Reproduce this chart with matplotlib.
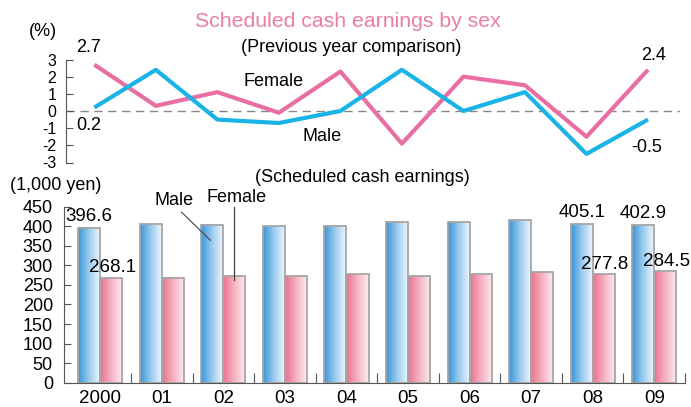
import numpy as np
import matplotlib
matplotlib.use("Agg")
import matplotlib.pyplot as plt
from matplotlib.colors import LinearSegmentedColormap

plt.rcParams["font.family"] = ["Liberation Sans", "DejaVu Sans"]
plt.rcParams["axes.unicode_minus"] = False

anos = ["2000", "01", "02", "03", "04", "05", "06", "07", "08", "09"]
homem_pct = [0.2, 2.4, -0.5, -0.7, 0.0, 2.4, 0.0, 1.1, -2.5, -0.5]
mulher_pct = [2.7, 0.3, 1.1, -0.1, 2.3, -1.9, 2.0, 1.5, -1.5, 2.4]
homem_val = [396.6, 406.1, 404.2, 401.4, 401.4, 411.0, 411.0, 415.5, 405.1, 402.9]
mulher_val = [268.1, 268.9, 271.9, 271.6, 277.8, 272.5, 278.0, 282.2, 277.8, 284.5]

W, H = 691, 407
AZUL_LINHA = "#1ab3e8"
ROSA_LINHA = "#e96fa3"
ROSA_TITULO = "#ea7fa0"
CINZA = "#555555"


def px(x, y):
    return x / W, 1 - y / H


def pintarGradiente(ax, barras, cmap):
    grad = np.linspace(0, 1, 256).reshape(1, -1)
    for b in barras:
        x0, y0 = b.get_x(), b.get_y()
        ax.imshow(grad, cmap=cmap, aspect="auto", zorder=1,
                  extent=[x0, x0 + b.get_width(), y0, y0 + b.get_height()])


fig = plt.figure(figsize=(W / 100, H / 100), dpi=100)

# ---- grafico de cima (variacao anual)
l, t = px(66, 59.5)
r, b = px(680, 162.5)
ax1 = fig.add_axes([l, b, r - l, t - b])
x = np.arange(len(anos))
ax1.axhline(0, color="#888888", lw=1, ls=(0, (6, 4)), zorder=1)
ax1.plot(x, mulher_pct, color=ROSA_LINHA, lw=3, zorder=3, solid_capstyle="butt")
ax1.plot(x, homem_pct, color=AZUL_LINHA, lw=3, zorder=3, solid_capstyle="butt")
ax1.set_xlim(-0.46, 9.52)
ax1.set_ylim(-3, 3)
for s in ["top", "right", "bottom"]:
    ax1.spines[s].set_visible(False)
ax1.spines["left"].set_color(CINZA)
ax1.set_xticks([])
ticks = list(range(-3, 4))
ax1.set_yticks(ticks, labels=[str(v) for v in ticks])
ax1.tick_params(axis="y", direction="in", length=5, color=CINZA, labelsize=11.5, pad=7)

ax1.annotate(f"{mulher_pct[0]}", (0, mulher_pct[0]), xytext=(-4, 6), textcoords="offset points",
             ha="center", va="bottom", fontsize=13)
ax1.annotate(f"{homem_pct[0]}", (0, homem_pct[0]), xytext=(-4, -7), textcoords="offset points",
             ha="center", va="top", fontsize=13)
ax1.annotate(f"{mulher_pct[9]}", (9, mulher_pct[9]), xytext=(4, 4), textcoords="offset points",
             ha="center", va="bottom", fontsize=13)
ax1.annotate(f"{homem_pct[9]}", (9, homem_pct[9]), xytext=(-1, -14), textcoords="offset points",
             ha="center", va="top", fontsize=13)
ax1.text(2.91, 1.73, "Female", ha="center", va="center", fontsize=13)
ax1.text(3.70, -1.5, "Male", ha="center", va="center", fontsize=13)

# ---- grafico de baixo (valores)
l, t = px(64, 206.7)
r, b = px(685, 382.7)
ax2 = fig.add_axes([l, b, r - l, t - b])
w = 0.358
cm_azul = LinearSegmentedColormap.from_list("azul", ["#3796d8", "#9fcdef", "#f4f9fe"])
cm_rosa = LinearSegmentedColormap.from_list("rosa", ["#e9718f", "#f6b3c3", "#fdf0f3"])
bh = ax2.bar(x - w / 2, homem_val, w, facecolor="none", edgecolor="#a6a6a6", lw=1.3, zorder=2)
bm = ax2.bar(x + w / 2, mulher_val, w, facecolor="none", edgecolor="#a6a6a6", lw=1.3, zorder=2)
pintarGradiente(ax2, bh, cm_azul)
pintarGradiente(ax2, bm, cm_rosa)
ax2.set_xlim(-0.59, 9.5)
ax2.set_ylim(0, 450)
for s in ["top", "right"]:
    ax2.spines[s].set_visible(False)
for s in ["left", "bottom"]:
    ax2.spines[s].set_color(CINZA)
ax2.set_yticks(range(0, 451, 50))
ax2.tick_params(axis="y", direction="in", length=5, color=CINZA, labelsize=13, pad=8)
ax2.set_xticks(np.arange(0.5, 10, 1), labels=[""] * 10)
ax2.set_xticks(x, labels=anos, minor=True)
ax2.tick_params(axis="x", which="major", direction="in", length=7, color=CINZA)
ax2.tick_params(axis="x", which="minor", length=0, labelsize=13.5, pad=5)

for i in [0, 8, 9]:
    ax2.annotate(f"{homem_val[i]}", (i - w / 2, homem_val[i]), xytext=(0, 2), textcoords="offset points",
                 ha="center", va="bottom", fontsize=13.5)
    ax2.annotate(f"{mulher_val[i]}", (i + w / 2, mulher_val[i]), xytext=(1, 1), textcoords="offset points",
                 ha="center", va="bottom", fontsize=13.5)

# linhas de legenda
ax2.plot([1.32, 1.79], [436, 364], color="#444444", lw=0.8, clip_on=False, zorder=4)
ax2.plot([2.17, 2.17], [448, 262], color="#444444", lw=0.9, clip_on=False, zorder=4)
fig.text(*px(173.7, 201), "Male", ha="center", va="center", fontsize=13)
fig.text(*px(236.2, 197.5), "Female", ha="center", va="center", fontsize=13)

# ---- textos
fig.text(*px(348, 27.3), "Scheduled cash earnings by sex", ha="center", va="baseline",
         fontsize=15.3, color=ROSA_TITULO)
fig.text(*px(42.5, 32), "(%)", ha="center", va="center", fontsize=13)
fig.text(*px(351.5, 48), "(Previous year comparison)", ha="center", va="center", fontsize=13)
fig.text(*px(56, 185), "(1,000 yen)", ha="center", va="center", fontsize=13)
fig.text(*px(362.5, 177.5), "(Scheduled cash earnings)", ha="center", va="center", fontsize=13)

fig.savefig("out.png", dpi=100)
